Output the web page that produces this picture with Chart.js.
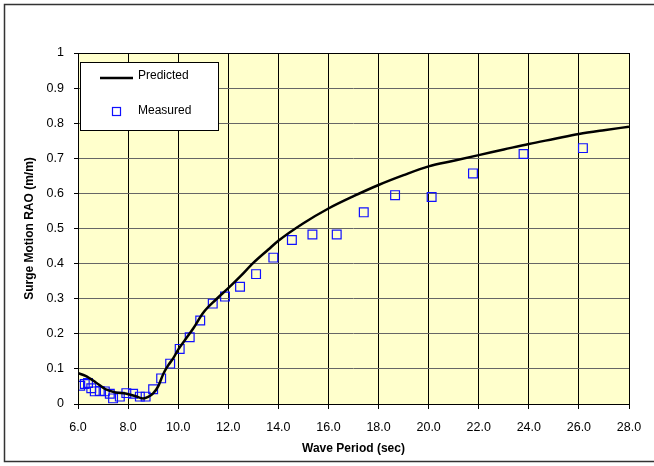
<!DOCTYPE html>
<html>
<head>
<meta charset="utf-8">
<script src="https://cdn.jsdelivr.net/npm/chart.js@4.4.1/dist/chart.umd.min.js"></script>
<style>
  html, body { margin: 0; padding: 0; background: #fff; }
  #wrap { position: relative; width: 654px; height: 466px; }
</style>
</head>
<body>
<div id="wrap"><canvas id="raoChart" width="654" height="466"></canvas></div>
<script>
    // Predicted curve
    const predictedPeriod = [6.0, 6.3, 6.7, 7.1, 7.5, 7.9, 8.3, 8.6, 8.8, 9.0, 9.2, 9.4, 9.6, 9.8, 10.0, 10.3, 10.6, 11.0, 11.5, 12.0, 12.5, 13.0, 13.6, 14.0, 15.0, 16.0, 17.0, 18.0, 19.0, 20.0, 21.0, 22.0, 23.0, 24.0, 25.0, 26.0, 27.0, 28.0];
    const predictedRao = [0.088, 0.080, 0.062, 0.042, 0.033, 0.030, 0.022, 0.016, 0.020, 0.030, 0.050, 0.085, 0.110, 0.130, 0.155, 0.185, 0.215, 0.260, 0.297, 0.330, 0.365, 0.402, 0.440, 0.465, 0.515, 0.557, 0.592, 0.624, 0.652, 0.677, 0.693, 0.709, 0.725, 0.741, 0.755, 0.769, 0.780, 0.790];

    // Measured points
    const measuredPeriod = [6.09, 6.27, 6.40, 6.53, 6.67, 6.87, 7.07, 7.27, 7.40, 7.67, 7.93, 8.20, 8.47, 8.70, 9.00, 9.32, 9.68, 10.06, 10.46, 10.88, 11.38, 11.87, 12.47, 13.11, 13.80, 14.54, 15.36, 16.33, 17.41, 18.66, 20.12, 21.77, 23.79, 26.16];
    const measuredRao = [0.052, 0.057, 0.060, 0.045, 0.036, 0.037, 0.036, 0.029, 0.016, 0.021, 0.031, 0.029, 0.021, 0.021, 0.042, 0.073, 0.115, 0.157, 0.190, 0.238, 0.286, 0.306, 0.334, 0.370, 0.417, 0.467, 0.483, 0.483, 0.546, 0.595, 0.590, 0.657, 0.712, 0.729];

    // Tick values
    const xTicks = [6, 8, 10, 12, 14, 16, 18, 20, 22, 24, 26, 28];
    const yTicks = [0, 0.1, 0.2, 0.3, 0.4, 0.5, 0.6, 0.7, 0.8, 0.9, 1];

    const FONT = "'Liberation Sans', Arial, sans-serif";

    // background, frame, plot border and legend box
    const decor = {
      id: 'decor',
      beforeDraw(chart) {
        const { ctx, chartArea: a } = chart;
        ctx.save();
        ctx.fillStyle = '#fff';
        ctx.fillRect(0, 0, chart.width, chart.height);
        ctx.strokeStyle = '#333';
        ctx.lineWidth = 1.5;
        ctx.strokeRect(4.5, 4.5, 700, 457);
        ctx.fillStyle = '#FFFFCC';
        ctx.fillRect(a.left, a.top, a.right - a.left, a.bottom - a.top);
        ctx.restore();
      },
      afterDraw(chart) {
        const { ctx, chartArea: a } = chart;
        ctx.save();
        ctx.strokeStyle = '#000';
        ctx.lineWidth = 1;
        ctx.strokeRect(a.left + 0.5, a.top + 0.5, a.right - a.left, a.bottom - a.top);

        // legend
        ctx.fillStyle = '#fff';
        ctx.fillRect(80, 62, 138, 68);
        ctx.strokeRect(80.5, 62.5, 138, 68);
        const ds = chart.data.datasets;
        ctx.strokeStyle = ds[0].borderColor;
        ctx.lineWidth = 2.5;
        ctx.beginPath();
        ctx.moveTo(100, 78);
        ctx.lineTo(133, 78);
        ctx.stroke();
        ctx.strokeStyle = ds[1].borderColor;
        ctx.lineWidth = 1.2;
        ctx.strokeRect(112.5, 107.5, 8, 8);
        ctx.fillStyle = '#000';
        ctx.font = '12px ' + FONT;
        ctx.textBaseline = 'middle';
        ctx.fillText(ds[0].label, 138, 76);
        ctx.fillText(ds[1].label, 138, 111);
        ctx.restore();
      }
    };

    const ctx = document.getElementById('raoChart').getContext('2d');
    new Chart(ctx, {
      type: 'scatter',
      data: {
        datasets: [{
          label: 'Predicted',
          type: 'line',
          data: predictedPeriod.map((p, i) => ({ x: p, y: predictedRao[i] })),
          borderColor: '#000',
          borderWidth: 2.5,
          pointRadius: 0,
          fill: false,
          cubicInterpolationMode: 'monotone'
        }, {
          label: 'Measured',
          data: measuredPeriod.map((p, i) => ({ x: p, y: measuredRao[i] })),
          borderColor: '#1010FF',
          backgroundColor: 'rgba(0,0,0,0)',
          borderWidth: 1.2,
          pointStyle: 'rect',
          pointRadius: 6.2
        }]
      },
      options: {
        responsive: false,
        animation: false,
        layout: { padding: { left: 0, top: 53, right: 25, bottom: 0 } },
        plugins: { legend: { display: false }, tooltip: { enabled: false } },
        scales: {
          x: {
            type: 'linear', min: 6, max: 28,
            afterFit: s => { s.height = 62; },
            afterBuildTicks: s => { s.ticks = xTicks.map(v => ({ value: v })); },
            grid: { color: '#000', lineWidth: 1, tickLength: 5, tickColor: '#000' },
            border: { display: false },
            ticks: { color: '#000', font: { family: FONT, size: 12.5 }, padding: 11, maxRotation: 0,
                     callback: v => v.toFixed(1) },
            title: { display: true, text: 'Wave Period (sec)', color: '#000',
                     font: { family: FONT, size: 12, weight: 'bold' }, padding: { top: 4, bottom: 10 } }
          },
          y: {
            min: 0, max: 1,
            afterFit: s => { s.width = 78; },
            afterBuildTicks: s => { s.ticks = yTicks.map(v => ({ value: v })); },
            grid: { color: '#666', lineWidth: 1, tickLength: 4, tickColor: '#000' },
            border: { display: false },
            ticks: { color: '#000', font: { family: FONT, size: 12.5 }, padding: 10,
                     callback: v => String(Number(v.toFixed(1))) },
            title: { display: true, text: 'Surge Motion RAO (m/m)', color: '#000',
                     font: { family: FONT, size: 12, weight: 'bold' }, padding: { top: 22, bottom: 0 } }
          }
        }
      },
      plugins: [decor]
    });
</script>
</body>
</html>
